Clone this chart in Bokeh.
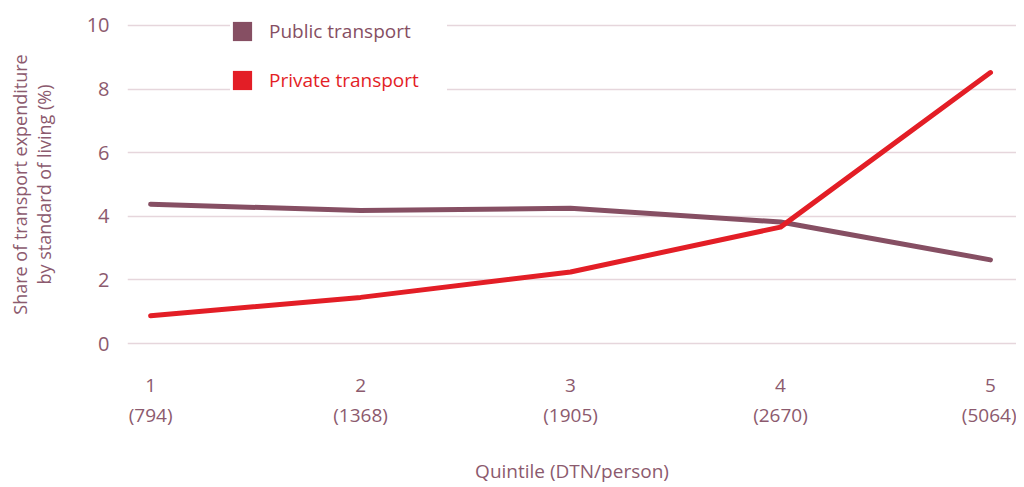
from bokeh.plotting import figure
from bokeh.models import Range1d, FixedTicker, LinearAxis, Legend, LegendItem
from bokeh.embed import file_html
from bokeh.resources import INLINE

quintiles = [1, 2, 3, 4, 5]
quintile_labels = ["1", "2", "3", "4", "5"]
income_labels = ["(794)", "(1368)", "(1905)", "(2670)", "(5064)"]
public_transport = [4.38, 4.18, 4.25, 3.82, 2.63]
private_transport = [0.87, 1.45, 2.25, 3.66, 8.52]
y_ticks = [0, 2, 4, 6, 8, 10]

TEXT = "#8c5a6e"
PUBLIC = "#864f63"
PRIVATE = "#e31e26"
GRID = "#e6d6dc"
FONT = "Open Sans"

p = figure(frame_width=889, frame_height=332, output_backend="svg", toolbar_location=None,
           x_range=Range1d(0.89, 5.124), y_range=Range1d(-0.22, 10.22),
           min_border_left=127, min_border_right=0, min_border_top=18, min_border_bottom=129)
p.outline_line_color = None
p.xgrid.grid_line_color = None
p.ygrid.grid_line_color = GRID
p.ygrid.grid_line_width = 1.5

# y axis
p.yaxis.ticker = FixedTicker(ticks=y_ticks)
p.yaxis.axis_line_color = None
p.yaxis.major_tick_line_color = None
p.yaxis.minor_tick_line_color = None
p.yaxis.major_label_standoff = 12
p.yaxis.major_label_text_font = FONT
p.yaxis.major_label_text_font_size = "20px"
p.yaxis.major_label_text_color = TEXT
p.yaxis.axis_label = "Share of transport expenditure\nby standard of living (%)"
p.yaxis.axis_label_text_font = FONT
p.yaxis.axis_label_text_font_size = "18px"
p.yaxis.axis_label_text_font_style = "normal"
p.yaxis.axis_label_text_color = TEXT
p.yaxis.axis_label_text_line_height = 1.0
p.yaxis.axis_label_standoff = 28

# x axis: quintile numbers
xa = p.xaxis[0]
xa.ticker = FixedTicker(ticks=quintiles)
xa.major_label_overrides = {q: l for q, l in zip(quintiles, quintile_labels)}
xa.axis_line_color = None
xa.major_tick_line_color = None
xa.minor_tick_line_color = None
xa.major_label_standoff = 22
xa.major_label_text_font = FONT
xa.major_label_text_font_size = "19px"
xa.major_label_text_color = TEXT

# second x axis: income labels
xa2 = LinearAxis(ticker=FixedTicker(ticks=quintiles),
                 major_label_overrides={q: l for q, l in zip(quintiles, income_labels)})
xa2.axis_line_color = None
xa2.major_tick_line_color = None
xa2.minor_tick_line_color = None
xa2.major_label_standoff = 1
xa2.major_label_text_font = FONT
xa2.major_label_text_font_size = "19px"
xa2.major_label_text_color = TEXT
xa2.axis_label = "Quintile (DTN/person)"
xa2.axis_label_text_font = FONT
xa2.axis_label_text_font_size = "19px"
xa2.axis_label_text_font_style = "normal"
xa2.axis_label_text_color = TEXT
xa2.axis_label_standoff = 27
p.add_layout(xa2, "below")

r_pub = p.line(quintiles, public_transport, line_color=PUBLIC, line_width=5, line_cap="round", line_join="round")
r_pri = p.line(quintiles, private_transport, line_color=PRIVATE, line_width=5, line_cap="round", line_join="round")

# hidden bar renderers used only for the square legend swatches
s_pub = p.vbar(x=quintiles, top=public_transport, width=0.1,
               fill_color=PUBLIC, line_color=None, visible=False)
s_pri = p.vbar(x=quintiles, top=private_transport, width=0.1,
               fill_color=PRIVATE, line_color=None, visible=False)

def make_legend(label, renderer, color, loc):
    return Legend(items=[LegendItem(label=label, renderers=[renderer])], location=loc,
                  padding=10, margin=0, spacing=0, glyph_width=24, glyph_height=24,
                  label_height=20, label_width=178, label_standoff=15,
                  label_text_font=FONT, label_text_font_size="19px", label_text_color=color,
                  background_fill_color="white", background_fill_alpha=1.0,
                  inactive_fill_alpha=0.0, border_line_color=None)

p.add_layout(make_legend("Public transport", s_pub, PUBLIC, (103, 306)))
p.add_layout(make_legend("Private transport", s_pri, PRIVATE, (103, 257)))

open("out.html", "w").write(file_html(p, INLINE))
